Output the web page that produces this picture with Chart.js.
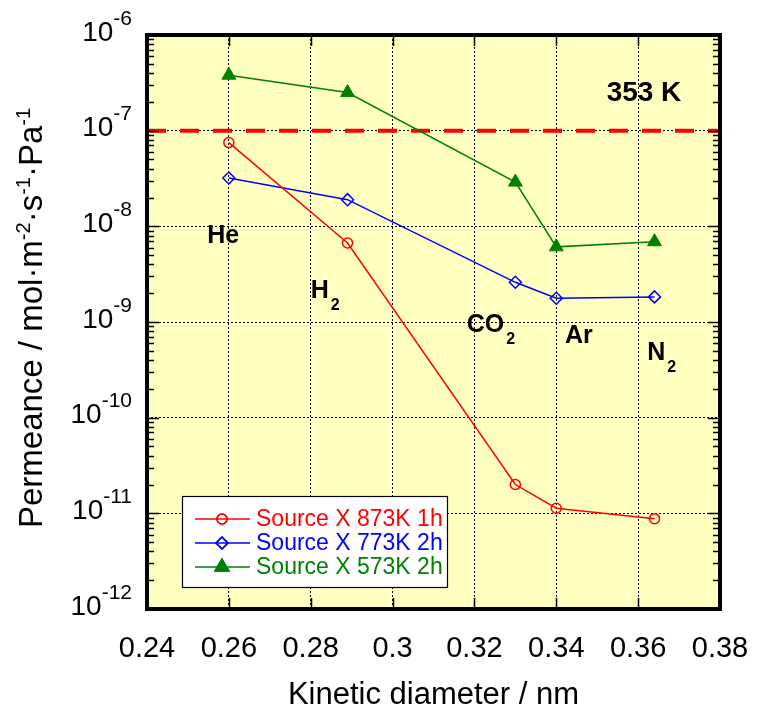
<!DOCTYPE html>
<html>
<head>
<meta charset="utf-8">
<script src="https://cdn.jsdelivr.net/npm/chart.js@4.4.0/dist/chart.umd.min.js"></script>
<style>
html, body { margin: 0; padding: 0; background: #fff; }
</style>
</head>
<body>
<canvas id="myChart" width="762" height="711"></canvas>
<script>
// data
var kineticDiameter = [0.26, 0.289, 0.33, 0.34, 0.364]
var permX873 = [7.5e-8, 6.7e-9, 2.0e-11, 1.13e-11, 8.8e-12]
var permX773 = [3.2e-8, 1.9e-8, 2.6e-9, 1.77e-9, 1.83e-9]
var permX573 = [3.8e-7, 2.5e-7, 2.9e-8, 6.1e-9, 6.9e-9]
var seriesLabels = ['Source X 873K 1h', 'Source X 773K 2h', 'Source X 573K 2h']
var limitX = [0.24, 0.38]
var limitY = [1e-7, 1e-7]
var xTicks = [0.24, 0.26, 0.28, 0.3, 0.32, 0.34, 0.36, 0.38]
var yTicks = [1e-12, 1e-11, 1e-10, 1e-9, 1e-8, 1e-7, 1e-6]

// gas names and where they sit (x in nm, y in permeance)
var gasNames = ['He', 'H', 'CO', 'Ar', 'N']
var gasSubs = ['', '2', '2', '', '2']
var gasX = [0.2547, 0.2800, 0.3181, 0.3421, 0.3622]
var gasY = [6.7e-9, 1.79e-9, 7.9e-10, 6.05e-10, 4.0e-10]
var tempText = '353 K'
var tempX = 0.3523
var tempY = 2.04e-7

var FONT = "'Liberation Sans', Arial, Helvetica, sans-serif"

function toPoints(xs, ys) {
  return xs.map(function (x, i) { return { x: x, y: ys[i] } })
}

function drawMarker(ctx, style, r, x, y, color, filled) {
  ctx.save()
  ctx.strokeStyle = color
  ctx.fillStyle = filled ? color : 'transparent'
  ctx.lineWidth = 1.5
  Chart.helpers.drawPoint(ctx, { pointStyle: style, radius: r, rotation: 0, borderWidth: 1.5 }, x, y)
  if (filled) ctx.fill()
  ctx.stroke()
  ctx.restore()
}

// background, frame, ticks, labels, legend
const decorPlugin = {
  id: 'decor',
  beforeDraw(chart) {
    const ctx = chart.ctx, a = chart.chartArea
    ctx.save()
    ctx.fillStyle = '#FFFFC0'
    ctx.fillRect(a.left, a.top, a.right - a.left, a.bottom - a.top)
    ctx.restore()
  },
  afterDraw(chart) {
    const ctx = chart.ctx, a = chart.chartArea
    const xs = chart.scales.x, ys = chart.scales.y
    ctx.save()

    // minor / major ticks inward
    ctx.strokeStyle = '#000'
    ctx.lineWidth = 1.5
    ctx.beginPath()
    for (let d = -12; d < -6; d++) {
      for (let k = 2; k <= 9; k++) {
        const py = Math.round(ys.getPixelForValue(k * Math.pow(10, d))) + 0.5
        ctx.moveTo(a.left, py); ctx.lineTo(a.left + 7, py)
        ctx.moveTo(a.right, py); ctx.lineTo(a.right - 7, py)
      }
    }
    yTicks.forEach(function (v) {
      const py = Math.round(ys.getPixelForValue(v)) + 0.5
      ctx.moveTo(a.left, py); ctx.lineTo(a.left + 12, py)
      ctx.moveTo(a.right, py); ctx.lineTo(a.right - 12, py)
    })
    xTicks.forEach(function (v) {
      const px = Math.round(xs.getPixelForValue(v)) + 0.5
      ctx.moveTo(px, a.bottom); ctx.lineTo(px, a.bottom - 11)
      ctx.moveTo(px, a.top); ctx.lineTo(px, a.top + 11)
    })
    ctx.stroke()

    // thick frame
    ctx.lineWidth = 4
    ctx.strokeRect(a.left, a.top, a.right - a.left, a.bottom - a.top)

    // y tick labels 10^n
    ctx.fillStyle = '#000'
    ctx.textBaseline = 'middle'
    yTicks.forEach(function (v) {
      const py = ys.getPixelForValue(v)
      const ex = String(Math.round(Math.log10(v)))
      ctx.font = '21px ' + FONT
      const w = ctx.measureText(ex).width
      ctx.textAlign = 'right'
      ctx.fillText(ex, a.left - 15, py - 16)
      ctx.font = '28px ' + FONT
      ctx.fillText('10', a.left - 15 - w, py - 2)
    })

    // y title with superscripts
    const parts = [['Permeance / mol\u00b7m', 0], ['-2', 1], ['\u00b7s', 0], ['-1', 1], ['\u00b7Pa', 0], ['-1', 1]]
    const big = '33px ' + FONT, small = '20px ' + FONT
    let total = 0
    parts.forEach(function (p) { ctx.font = p[1] ? small : big; total += ctx.measureText(p[0]).width })
    ctx.translate(42, (a.top + a.bottom) / 2 - 4)
    ctx.rotate(-Math.PI / 2)
    ctx.textAlign = 'left'
    ctx.textBaseline = 'alphabetic'
    let cx = -total / 2
    parts.forEach(function (p) {
      ctx.font = p[1] ? small : big
      ctx.fillText(p[0], cx, p[1] ? -12 : 0)
      cx += ctx.measureText(p[0]).width
    })
    ctx.setTransform(1, 0, 0, 1, 0, 0)

    // gas names
    ctx.textAlign = 'left'
    ctx.textBaseline = 'alphabetic'
    gasNames.forEach(function (g, i) {
      const px = xs.getPixelForValue(gasX[i]), py = ys.getPixelForValue(gasY[i])
      ctx.font = 'bold 25px ' + FONT
      ctx.fillText(g, px, py)
      if (gasSubs[i]) {
        const w = ctx.measureText(g).width
        ctx.font = 'bold 16px ' + FONT
        ctx.fillText(gasSubs[i], px + w + 2, py + 12)
      }
    })
    ctx.font = 'bold 28px ' + FONT
    ctx.fillText(tempText, xs.getPixelForValue(tempX), ys.getPixelForValue(tempY))

    // legend box
    const lx = a.left + 35, ly = a.bottom - 113, lw = 265, lh = 91
    ctx.fillStyle = '#fff'
    ctx.fillRect(lx, ly, lw, lh)
    ctx.strokeStyle = '#000'
    ctx.lineWidth = 1.2
    ctx.strokeRect(lx + 0.5, ly + 0.5, lw, lh)
    chart.data.datasets.slice(0, 3).forEach(function (ds, i) {
      const ry = ly + 23 + i * 24
      ctx.strokeStyle = ds.borderColor
      ctx.lineWidth = 1.5
      ctx.beginPath()
      ctx.moveTo(lx + 13, ry); ctx.lineTo(lx + 68, ry)
      ctx.stroke()
      drawMarker(ctx, ds.pointStyle, ds.pointRadius, lx + 40, ry, ds.borderColor, ds.pointBackgroundColor !== 'transparent')
      ctx.fillStyle = ds.borderColor
      ctx.font = '23px ' + FONT
      ctx.textBaseline = 'middle'
      ctx.fillText(ds.label, lx + 74, ry + 1)
    })
    ctx.restore()
  }
}

const ctx = document.getElementById('myChart').getContext('2d')
const myChart = new Chart(ctx, {
  type: 'line',
  data: {
    datasets: [{
      label: seriesLabels[0],
      data: toPoints(kineticDiameter, permX873),
      borderColor: '#FF0000',
      pointBackgroundColor: 'transparent',
      pointBorderColor: '#FF0000',
      pointStyle: 'circle',
      pointRadius: 5,
      pointBorderWidth: 1.5,
      borderWidth: 1.5
    }, {
      label: seriesLabels[1],
      data: toPoints(kineticDiameter, permX773),
      borderColor: '#0000FF',
      pointBackgroundColor: 'transparent',
      pointBorderColor: '#0000FF',
      pointStyle: 'rectRot',
      pointRadius: 6,
      pointBorderWidth: 1.5,
      borderWidth: 1.5
    }, {
      label: seriesLabels[2],
      data: toPoints(kineticDiameter, permX573),
      borderColor: '#008000',
      pointBackgroundColor: '#008000',
      pointBorderColor: '#008000',
      pointStyle: 'triangle',
      pointRadius: 8,
      pointBorderWidth: 1,
      borderWidth: 1.5
    }, {
      label: 'limit',
      data: toPoints(limitX, limitY),
      borderColor: '#FF0000',
      borderWidth: 4,
      borderDash: [19, 14],
      pointRadius: 0
    }]
  },
  options: {
    responsive: false,
    animation: false,
    layout: { padding: { left: 0, right: 42, top: 35, bottom: 0 } },
    plugins: { legend: { display: false }, tooltip: { enabled: false } },
    scales: {
      x: {
        type: 'linear',
        min: 0.24,
        max: 0.38,
        afterBuildTicks: function (scale) { scale.ticks = xTicks.map(function (v) { return { value: v } }) },
        afterFit: function (scale) {
          scale.height = 102
          scale.paddingLeft = 0
          scale.paddingRight = 0
        },
        ticks: {
          font: { size: 29, family: FONT },
          color: '#000',
          padding: 23,
          maxRotation: 0,
          callback: function (v) { return String(v) }
        },
        grid: { color: '#000', lineWidth: 1, drawTicks: false },
        border: { display: false, dash: [2, 2] },
        title: {
          display: true,
          text: 'Kinetic diameter / nm',
          color: '#000',
          font: { size: 31, family: FONT, lineHeight: 1 },
          padding: { top: 0, bottom: 0 }
        }
      },
      y: {
        type: 'logarithmic',
        min: 1e-12,
        max: 1e-6,
        afterBuildTicks: function (scale) { scale.ticks = yTicks.map(function (v) { return { value: v } }) },
        afterFit: function (scale) {
          scale.width = 147
          scale.paddingTop = 0
          scale.paddingBottom = 0
        },
        ticks: { display: false },
        grid: { color: '#000', lineWidth: 1, drawTicks: false },
        border: { display: false, dash: [2, 2] }
      }
    }
  },
  plugins: [decorPlugin]
})
</script>
</body>
</html>
